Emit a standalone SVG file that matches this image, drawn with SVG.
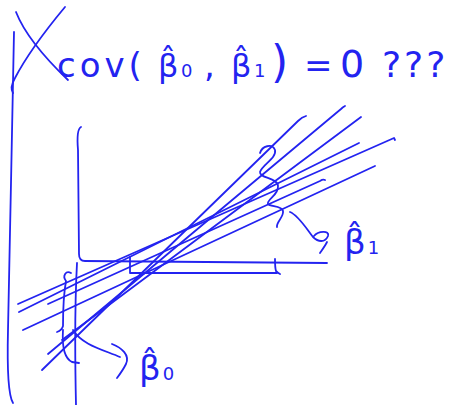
<svg xmlns="http://www.w3.org/2000/svg" width="454" height="405" viewBox="0 0 454 405">
<style>
.ink{fill:none;stroke:#2323f0;stroke-width:1.8;stroke-linecap:round;stroke-linejoin:round}
.hw{fill:#2323f0;font-family:"DejaVu Sans","Liberation Sans",sans-serif}
</style>
<rect width="454" height="405" fill="#ffffff"/>
<g id="title">
<path class="ink" d="M65,7 C50,25 27,55 15,78 C11,85 11,90 13,93"/>
<path class="ink" d="M16,12 C25,35 45,58 68,80"/>
<text class="hw" y="77" font-size="34"><tspan x="57" letter-spacing="4">cov(</tspan><tspan x="158" font-size="32">β̂</tspan><tspan x="181" font-size="18">0</tspan><tspan x="204">,</tspan><tspan x="231" font-size="32">β̂</tspan><tspan x="254" font-size="18">1</tspan><tspan x="271" font-size="44">)</tspan><tspan x="304">=</tspan><tspan x="340" font-size="38">0</tspan><tspan x="382" font-size="36" letter-spacing="3">???</tspan></text>
</g>
<g id="frame">
<path class="ink" d="M14,32 C12,120 10,250 8,330 C7,370 8,395 13,403"/>
</g>
<g id="axes">
<path class="ink" d="M81,127 C77,129 77,138 78,150 L79,254 Q79,261 85,261 L327,263"/>
<path class="ink" d="M77,263 C75,300 75,360 76,405"/>
<path class="ink" d="M130,257 L130,273 L277,273 M275,259 Q275,268 276,271 Q278,273 280,274"/>
</g>
<g id="connectors">
<path class="ink" d="M42,370 L298,121 Q302,117 306,116"/>
<path class="ink" d="M48,354 L341,109 Q343,107 345,106"/>
<path class="ink" d="M62,340 L361,117"/>
<path class="ink" d="M18,304 L394,138 L395,140"/>
<path class="ink" d="M19,312 L359,143"/>
<path class="ink" d="M48,304 L320,181 Q323,179 325,180"/>
<path class="ink" d="M23,330 L375,166"/>
<path class="ink" d="M260,153 C262,146 272,143 275,150 C277,158 262,165 260,172 C259,178 278,178 278,186 C279,195 266,200 268,204 C270,207 282,205 283,211 C284,217 276,222 277,227"/>
<path class="ink" d="M290,212 C298,215 306,228 313,237 C318,242 325,243 328,236 C330,230 318,231 314,236 M327,242 C325,246 322,250 320,253"/>
<path class="ink" d="M71,273 C66,270 62,276 66,281 C64,292 63,312 63,326 C62,330 60,331 57,332 M63,330 C62,345 64,358 72,362 L79,363"/>
<path class="ink" d="M73,330 C82,345 104,350 120,357 M112,344 C122,348 130,355 126,364 C123,370 120,374 117,378"/>
</g>
<g id="label-b1">
<text class="hw" x="344" y="254" font-size="34">β̂<tspan font-size="18" dx="2">1</tspan></text>
</g>
<g id="label-b0">
<text class="hw" x="139" y="380" font-size="34">β̂<tspan font-size="18" dx="2">0</tspan></text>
</g>
</svg>
